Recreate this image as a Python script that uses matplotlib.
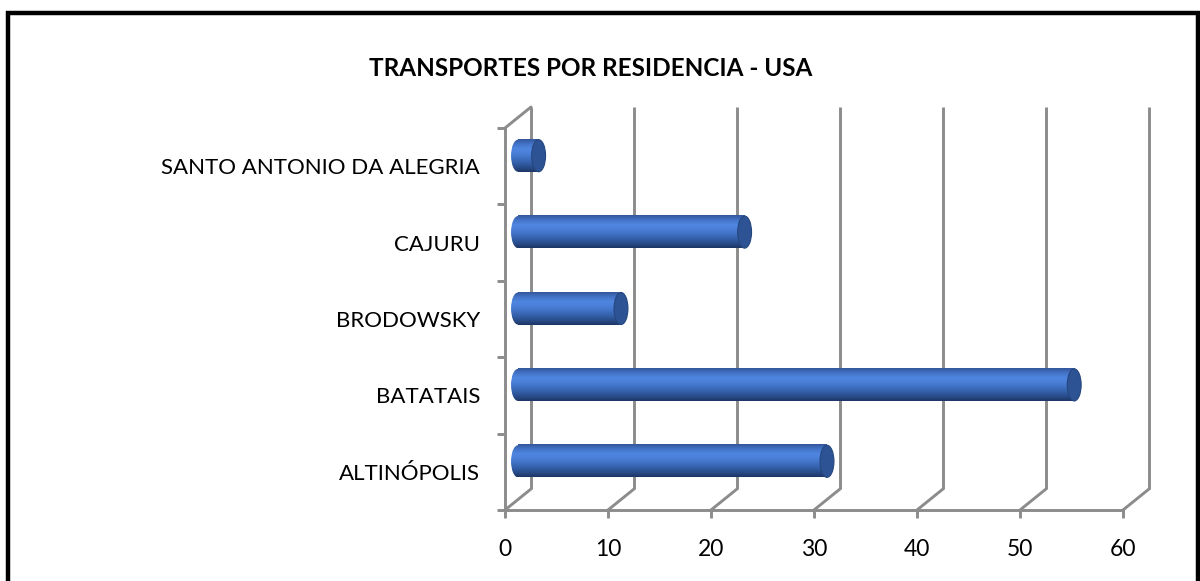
import matplotlib
matplotlib.use("Agg")
import matplotlib.pyplot as plt
import numpy as np
from matplotlib.colors import LinearSegmentedColormap
from matplotlib.patches import ConnectionPatch, Ellipse, Rectangle
from matplotlib.transforms import ScaledTranslation

title = "TRANSPORTES POR RESIDENCIA - USA"
cities = ["ALTINÓPOLIS", "BATATAIS", "BRODOWSKY", "CAJURU", "SANTO ANTONIO DA ALEGRIA"]
values = [30, 54, 10, 22, 2]
x_ticks = [0, 10, 20, 30, 40, 50, 60]

plt.rcParams["font.family"] = ["Lato", "DejaVu Sans"]
grid_color = "#8c8c8c"
grid_lw = 2.1

fig = plt.figure(figsize=(12, 5.81), dpi=100)
ax = fig.add_axes([505 / 1200, 71 / 581, 618 / 1200, 382 / 581])
ax.set_facecolor("none")

# depth offsets (inches) for the back wall and the middle of the bars
back = ax.transData + ScaledTranslation(0.26, 0.21, fig.dpi_scale_trans)
mid = ax.transData + ScaledTranslation(0.13, 0.105, fig.dpi_scale_trans)

ymin, ymax = -0.5, len(cities) - 0.5

# back wall grid lines
for x in x_ticks:
    ax.plot([x, x], [ymin, ymax], color=grid_color, lw=grid_lw, transform=back,
            clip_on=False, solid_capstyle="butt", zorder=1)
    con = ConnectionPatch(xyA=(x, ymin), coordsA=ax.transData, xyB=(x, ymin),
                          coordsB=back, color=grid_color, lw=grid_lw, zorder=1)
    fig.add_artist(con)
con = ConnectionPatch(xyA=(0, ymax), coordsA=ax.transData, xyB=(0, ymax),
                      coordsB=back, color=grid_color, lw=grid_lw, zorder=1)
fig.add_artist(con)

# cylinders
cmap = LinearSegmentedColormap.from_list(
    "cyl", ["#33579c", "#4373c8", "#4f86df", "#4b80d8", "#4071c4",
            "#3460aa", "#294d8c", "#1d3766"])
grad = np.linspace(0, 1, 64).reshape(-1, 1)
bar_h = 0.42
cap_w = 1.35
for i, v in enumerate(values):
    y0, y1 = i - bar_h / 2, i + bar_h / 2
    ax.imshow(grad, cmap=cmap, aspect="auto", extent=(0, v, y0, y1),
              origin="upper", transform=mid, zorder=3, interpolation="bilinear")
    left = Ellipse((0, i), cap_w, bar_h, transform=mid, facecolor="none",
                   edgecolor="none")
    ax.add_patch(left)
    im = ax.imshow(grad, cmap=cmap, aspect="auto",
                   extent=(-cap_w / 2, 0.01, y0, y1), origin="upper",
                   transform=mid, zorder=3, interpolation="bilinear")
    im.set_clip_path(left)
    ax.add_patch(Ellipse((v, i), cap_w, bar_h, transform=mid,
                         facecolor="#2d5394", edgecolor="#25477f", lw=0.8,
                         zorder=4))

ax.set_xlim(0, 60)
ax.set_ylim(ymin, ymax)

for side in ["top", "right"]:
    ax.spines[side].set_visible(False)
for side in ["bottom", "left"]:
    ax.spines[side].set_color(grid_color)
    ax.spines[side].set_linewidth(grid_lw)
    ax.spines[side].set_capstyle("projecting")

ax.set_xticks(x_ticks)
ax.set_xticklabels([str(t) for t in x_ticks])
ax.tick_params(axis="x", length=6, width=grid_lw, color=grid_color, pad=15,
               labelsize=16.5)
ax.set_yticks(np.arange(ymin, ymax + 0.5, 1))
ax.set_yticklabels([])
ax.set_yticks(range(len(cities)), minor=True)
ax.set_yticklabels(cities, minor=True)
ax.tick_params(axis="y", which="major", length=6, width=grid_lw, color=grid_color)
ax.tick_params(axis="y", which="minor", length=0, pad=18, labelsize=16)

fig.text(591 / 1200, (581 - 68) / 581, title, ha="center", va="center",
         fontsize=17.5, fontweight="bold")

fig.patches.append(Rectangle((8 / 1200, -0.1), 1189.5 / 1200, (581 - 13) / 581 + 0.1,
                             transform=fig.transFigure, fill=False,
                             edgecolor="black", lw=3.2))

fig.savefig("out.png", dpi=100)
